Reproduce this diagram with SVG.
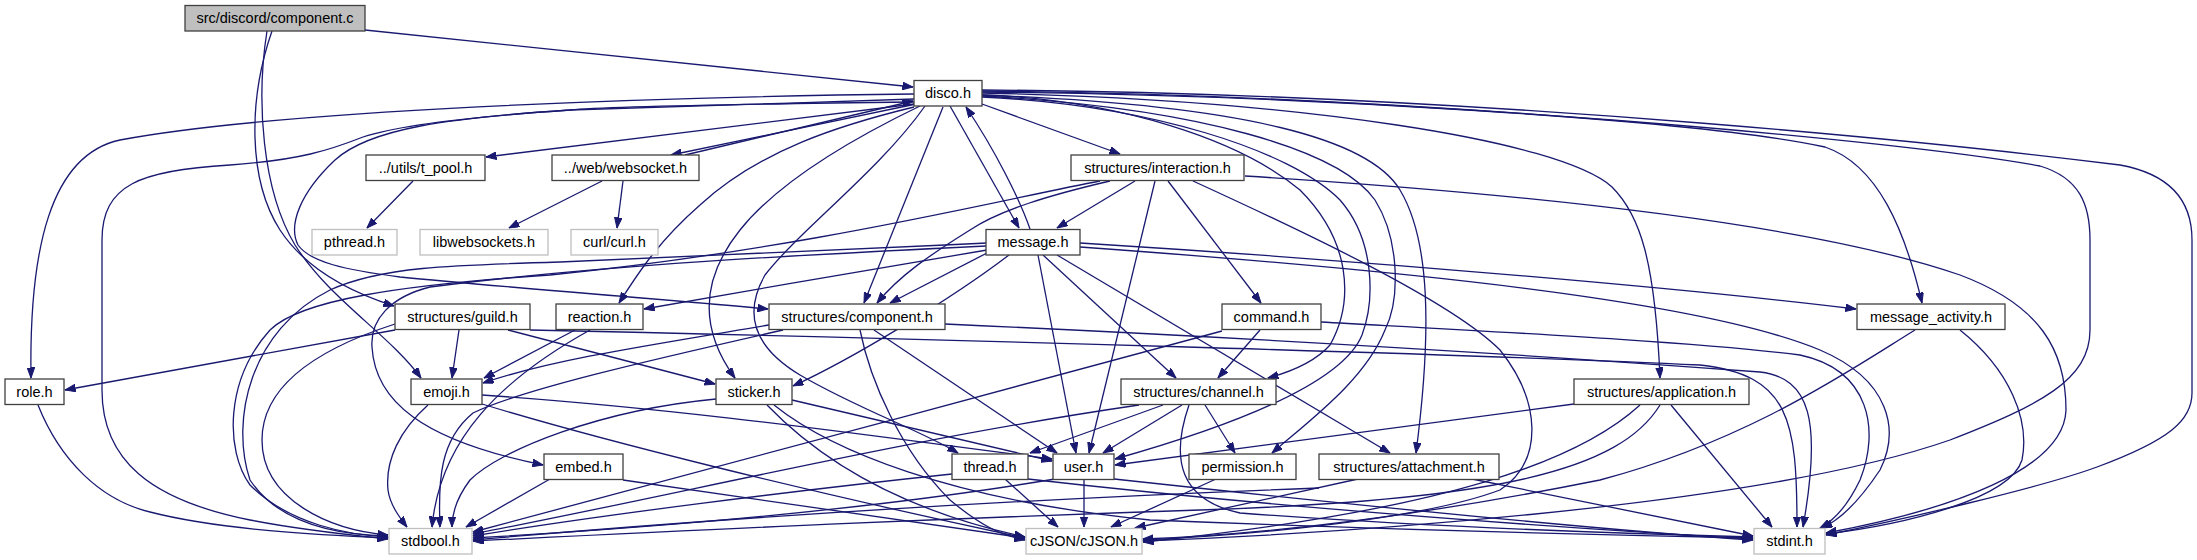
<svg xmlns="http://www.w3.org/2000/svg" width="2197" height="560" viewBox="0 0 2197 560">
<style>
.n rect{fill:#fff;stroke:#404040;stroke-width:1.3}
.g rect{fill:#fff;stroke:#bfbfbf;stroke-width:1.3}
.r rect{fill:#bfbfbf;stroke:#404040;stroke-width:1.3}
text{font-family:"Liberation Sans",Arial,Helvetica,sans-serif;font-size:14.5px;fill:#000;text-anchor:middle}
#edges path{fill:none;stroke:#191970;stroke-width:1.3;marker-end:url(#ah)}
</style>
<defs>
<marker id="ah" markerUnits="userSpaceOnUse" markerWidth="11" markerHeight="8" refX="10.5" refY="3.8" orient="auto">
<path d="M0,0 L10.5,3.8 L0,7.6 z" fill="#191970" stroke="#191970" stroke-width="1"/>
</marker>
</defs>
<rect width="2197" height="560" fill="#fff"/>
<g id="edges">
<path d="M365,30 L913,87"/>
<path d="M272,31 C248,100 248,180 280,230 C305,268 350,292 394,306"/>
<path d="M267,31 C256,100 262,190 295,245 C330,300 390,335 421,378"/>
<path d="M914,104 L486,157"/>
<path d="M916,104 L671,155"/>
<path d="M685,155 L913,101"/>
<path d="M914,94 C650,97 280,110 120,140 C50,155 29,250 31,378"/>
<path d="M914,102 C750,104 600,107 570,110 C450,118 390,128 363,137 C330,150 300,160 230,165 C140,170 102,185 102,240 L102,390 C102,460 150,500 250,520 C300,530 350,535 388,539"/>
<path d="M914,99 C800,103 650,107 570,110 C450,118 370,128 335,160 C300,193 288,225 298,245 C310,262 345,270 400,277 C500,287 650,298 768,309"/>
<path d="M914,107 C840,125 760,150 700,205 C660,240 640,270 619,303"/>
<path d="M920,106 C860,135 780,180 740,230 C700,280 700,330 735,378"/>
<path d="M925,106 C880,170 800,230 765,275 C745,310 750,345 800,375 C860,410 920,430 958,453"/>
<path d="M943,107 L864,303"/>
<path d="M950,106 L1019,228"/>
<path d="M1030,229 C1020,200 995,150 966,107"/>
<path d="M982,104 L1120,154"/>
<path d="M982,95 C1120,100 1240,140 1300,190 C1350,240 1355,300 1330,345 C1315,362 1290,372 1268,378"/>
<path d="M982,97 C1150,105 1290,150 1340,200 C1375,240 1375,300 1362,335 C1340,390 1200,435 1115,459"/>
<path d="M982,96 C1200,108 1340,150 1375,200 C1400,240 1400,300 1385,330 C1365,380 1310,420 1272,453"/>
<path d="M982,95 C1250,105 1370,140 1400,190 C1430,240 1432,330 1416,453"/>
<path d="M982,93 C1300,100 1560,140 1612,187 C1640,215 1655,260 1660,378"/>
<path d="M982,92 C1300,95 1700,120 1825,147 C1878,165 1905,230 1922,303"/>
<path d="M982,91 C1400,95 1900,140 2040,166 C2080,178 2090,205 2090,240 L2090,330 C2090,380 2040,405 1950,440 C1750,510 1300,535 1143,541"/>
<path d="M982,90 C1500,93 2000,150 2120,165 C2175,175 2192,205 2192,240 L2192,393 C2192,420 2170,440 2097,467 C2040,488 1900,520 1826,535"/>
<path d="M413,181 L367,228"/>
<path d="M602,181 L509,228"/>
<path d="M623,181 L617,228"/>
<path d="M1135,181 L1057,228"/>
<path d="M1110,181 C1050,195 1000,210 970,230 C930,255 900,275 877,303"/>
<path d="M1100,181 C1000,200 800,250 550,275 C400,285 300,300 270,330 C225,380 225,450 250,485 C290,525 350,535 388,537"/>
<path d="M1155,181 L1089,453"/>
<path d="M1168,181 L1261,303"/>
<path d="M1193,181 C1300,230 1450,300 1500,350 C1540,400 1545,460 1500,490 C1420,520 1250,535 1143,540"/>
<path d="M1245,176 C1500,192 1800,220 1960,275 C2040,305 2066,350 2066,410 C2064,470 1950,510 1826,533"/>
<path d="M987,253 L890,303"/>
<path d="M987,250 C900,265 750,290 644,309"/>
<path d="M986,246 C800,255 600,265 430,287 C390,297 370,320 372,347 C375,400 420,440 543,465"/>
<path d="M987,243 C800,252 600,260 560,262 C450,265 380,267 330,290 C250,330 230,420 250,480 C280,525 340,535 388,536"/>
<path d="M1009,255 C950,300 850,360 793,386"/>
<path d="M1038,255 L1076,453"/>
<path d="M1043,255 L1176,378"/>
<path d="M1057,255 L1390,453"/>
<path d="M1080,243 C1400,263 1700,290 1856,309"/>
<path d="M1080,247 C1400,270 1700,300 1820,350 C1890,380 1900,430 1880,470 C1860,500 1840,520 1822,528"/>
<path d="M395,330 L65,390"/>
<path d="M459,330 L452,378"/>
<path d="M508,330 L715,384"/>
<path d="M395,324 C330,345 262,380 262,440 C262,500 330,530 388,535"/>
<path d="M530,330 C900,338 1500,355 1700,365 C1790,375 1797,420 1797,527"/>
<path d="M575,330 L484,378"/>
<path d="M590,330 C500,380 440,440 432,527"/>
<path d="M769,325 C650,345 550,360 483,383"/>
<path d="M783,330 C650,360 520,390 473,413 C440,440 438,480 440,527"/>
<path d="M874,330 L1057,453"/>
<path d="M860,330 C870,380 900,450 950,500 C980,525 1000,535 1025,540"/>
<path d="M945,324 C1300,340 1600,360 1760,372 C1810,378 1822,420 1803,527"/>
<path d="M1260,330 L1218,378"/>
<path d="M1321,322 C1500,332 1700,342 1800,355 C1870,370 1880,430 1860,480 C1848,505 1835,520 1820,528"/>
<path d="M1222,331 C1000,390 600,500 473,532"/>
<path d="M38,405 C60,460 100,500 150,512 C220,530 320,535 388,538"/>
<path d="M428,405 C400,430 385,460 388,490 C390,505 400,518 407,527"/>
<path d="M482,395 C700,410 900,440 1052,459"/>
<path d="M482,404 C600,440 800,490 1025,538"/>
<path d="M792,400 L1052,461"/>
<path d="M767,405 C820,460 900,510 1025,537"/>
<path d="M774,405 C830,450 950,500 1150,520 C1400,530 1600,535 1753,538"/>
<path d="M716,399 C600,410 500,450 470,480 C455,500 452,515 452,527"/>
<path d="M550,479 L466,527"/>
<path d="M623,480 L1025,538"/>
<path d="M1163,405 L1030,453"/>
<path d="M1182,405 L1103,453"/>
<path d="M1205,405 L1235,453"/>
<path d="M1189,405 C1170,460 1180,500 1240,513 C1400,525 1600,533 1753,537"/>
<path d="M1139,405 C900,440 700,490 473,534"/>
<path d="M952,474 C800,490 600,515 473,536"/>
<path d="M1005,479 L1058,527"/>
<path d="M1028,479 C1300,510 1600,530 1753,539"/>
<path d="M1084,479 L1084,527"/>
<path d="M1055,479 C900,505 700,525 473,538"/>
<path d="M1114,479 C1400,510 1600,530 1753,540"/>
<path d="M1216,479 L1111,527"/>
<path d="M1358,479 L1135,528"/>
<path d="M1472,479 L1753,536"/>
<path d="M1319,488 C1000,500 700,520 473,540"/>
<path d="M1574,404 L1115,465"/>
<path d="M1640,405 C1580,460 1450,510 1143,542"/>
<path d="M1660,405 C1620,470 1500,500 1200,510 C900,520 700,530 473,541"/>
<path d="M1671,405 L1772,527"/>
<path d="M1915,330 C1850,370 1750,440 1600,480 C1400,520 1250,535 1143,539"/>
<path d="M1960,330 C2010,370 2030,420 2022,460 C2010,500 1900,525 1826,534"/>
</g>
<g id="n_component_c" class="r"><rect x="185" y="5.5" width="180" height="25.5"/><text x="275" y="23">src/discord/component.c</text></g>
<g id="n_disco" class="n"><rect x="914" y="80.5" width="68" height="25.5"/><text x="948" y="98">disco.h</text></g>
<g id="n_t_pool" class="n"><rect x="366" y="155" width="119" height="25.5"/><text x="425.5" y="172.5">../utils/t_pool.h</text></g>
<g id="n_websocket" class="n"><rect x="552" y="155" width="147" height="25.5"/><text x="625.5" y="172.5">../web/websocket.h</text></g>
<g id="n_interaction" class="n"><rect x="1071" y="155" width="173" height="25.5"/><text x="1157.5" y="172.5">structures/interaction.h</text></g>
<g id="n_pthread" class="g"><rect x="312" y="229.5" width="85" height="25.5"/><text x="354.5" y="247">pthread.h</text></g>
<g id="n_libwebsockets" class="g"><rect x="420" y="229.5" width="128" height="25.5"/><text x="484" y="247">libwebsockets.h</text></g>
<g id="n_curl" class="g"><rect x="571" y="229.5" width="87" height="25.5"/><text x="614.5" y="247">curl/curl.h</text></g>
<g id="n_message" class="n"><rect x="986" y="229.5" width="94" height="25.5"/><text x="1033" y="247">message.h</text></g>
<g id="n_guild" class="n"><rect x="395" y="304" width="135" height="25.5"/><text x="462.5" y="321.5">structures/guild.h</text></g>
<g id="n_reaction" class="n"><rect x="556" y="304" width="87" height="25.5"/><text x="599.5" y="321.5">reaction.h</text></g>
<g id="n_s_component" class="n"><rect x="769" y="304" width="176" height="25.5"/><text x="857" y="321.5">structures/component.h</text></g>
<g id="n_command" class="n"><rect x="1222" y="304" width="99" height="25.5"/><text x="1271.5" y="321.5">command.h</text></g>
<g id="n_message_activity" class="n"><rect x="1857" y="304" width="148" height="25.5"/><text x="1931" y="321.5">message_activity.h</text></g>
<g id="n_role" class="n"><rect x="5" y="379" width="59" height="25.5"/><text x="34.5" y="396.5">role.h</text></g>
<g id="n_emoji" class="n"><rect x="411" y="379" width="71" height="25.5"/><text x="446.5" y="396.5">emoji.h</text></g>
<g id="n_sticker" class="n"><rect x="716" y="379" width="76" height="25.5"/><text x="754" y="396.5">sticker.h</text></g>
<g id="n_channel" class="n"><rect x="1121" y="379" width="155" height="25.5"/><text x="1198.5" y="396.5">structures/channel.h</text></g>
<g id="n_application" class="n"><rect x="1574" y="379" width="175" height="25.5"/><text x="1661.5" y="396.5">structures/application.h</text></g>
<g id="n_embed" class="n"><rect x="544" y="454" width="79" height="25.5"/><text x="583.5" y="471.5">embed.h</text></g>
<g id="n_thread" class="n"><rect x="952" y="454" width="76" height="25.5"/><text x="990" y="471.5">thread.h</text></g>
<g id="n_user" class="n"><rect x="1053" y="454" width="61" height="25.5"/><text x="1083.5" y="471.5">user.h</text></g>
<g id="n_permission" class="n"><rect x="1189" y="454" width="107" height="25.5"/><text x="1242.5" y="471.5">permission.h</text></g>
<g id="n_attachment" class="n"><rect x="1319" y="454" width="180" height="25.5"/><text x="1409" y="471.5">structures/attachment.h</text></g>
<g id="n_stdbool" class="g"><rect x="389" y="528.5" width="83" height="25.5"/><text x="430.5" y="546">stdbool.h</text></g>
<g id="n_cjson" class="g"><rect x="1026" y="528.5" width="116" height="25.5"/><text x="1084" y="546">cJSON/cJSON.h</text></g>
<g id="n_stdint" class="g"><rect x="1754" y="528.5" width="71" height="25.5"/><text x="1789.5" y="546">stdint.h</text></g>
</svg>
